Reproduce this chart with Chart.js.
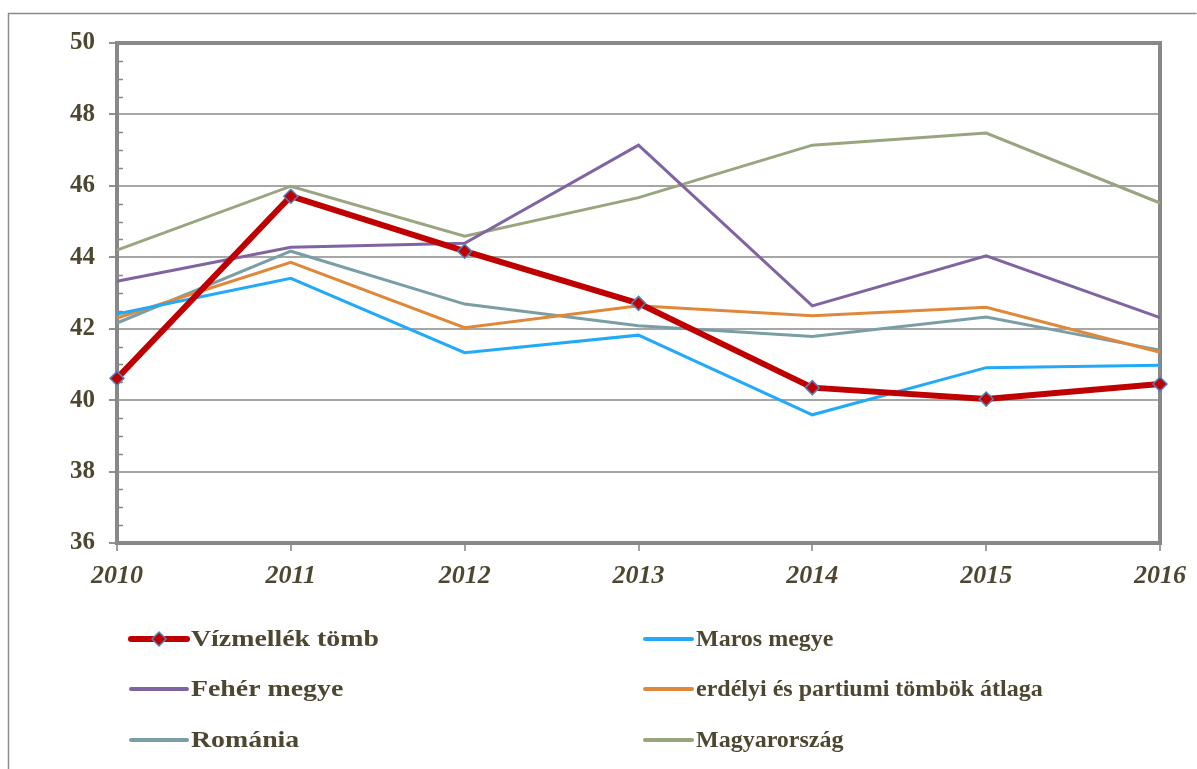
<!DOCTYPE html>
<html>
<head>
<meta charset="utf-8">
<script src="https://cdn.jsdelivr.net/npm/chart.js@4/dist/chart.umd.min.js"></script>
<style>
  html, body { margin: 0; padding: 0; background: #fff; }
  #wrap { width: 1197px; height: 769px; }
</style>
</head>
<body>
<div id="wrap"><canvas id="chart" width="1197" height="769"></canvas></div>
<script>
'use strict';

var years = ['2010', '2011', '2012', '2013', '2014', '2015', '2016'];

var vizmellek = [40.61, 45.71, 44.17, 42.71, 40.35, 40.03, 40.45];
var maros = [42.41, 43.41, 41.33, 41.82, 39.59, 40.91, 40.98];
var feher = [43.33, 44.28, 44.39, 47.14, 42.64, 44.04, 42.31];
var erdelyi = [42.30, 43.86, 42.03, 42.64, 42.36, 42.60, 41.34];
var romania = [42.16, 44.17, 42.69, 42.08, 41.78, 42.33, 41.40];
var magyarorszag = [44.20, 45.99, 44.59, 45.67, 47.14, 47.48, 45.52];

var seriesNames = ['Vízmellék tömb', 'Maros megye', 'Fehér megye',
  'erdélyi és partiumi tömbök átlaga', 'Románia', 'Magyarország'];
var seriesData = [vizmellek, maros, feher, erdelyi, romania, magyarorszag];
var colors = ['#C00000', '#22AAF8', '#8064A2', '#E0883A', '#7A9EA6', '#98A57F'];

var yMin = 36;
var yMax = 50;
var yStep = 2;

var textColor = '#4D4731';
var fontFamily = '"Liberation Serif", "Times New Roman", serif';

var datasets = [];
for (var i = 0; i < seriesNames.length; i++) {
  var isMain = i === 0;
  datasets.push({
    label: seriesNames[i],
    data: seriesData[i],
    borderColor: colors[i],
    backgroundColor: colors[i],
    borderWidth: isMain ? 6 : 3,
    pointStyle: 'rectRot',
    pointRadius: isMain ? 7 : 0,
    pointHoverRadius: isMain ? 7 : 0,
    pointBackgroundColor: '#C00000',
    pointBorderColor: '#4F81BD',
    pointBorderWidth: 1.5,
    tension: 0,
    clip: false
  });
}

// outer frame, top/right plot border and minor ticks
var framePlugin = {
  id: 'frame',
  beforeDraw: function (chart) {
    var c = chart.ctx;
    c.save();
    c.fillStyle = '#fff';
    c.fillRect(0, 0, chart.width, chart.height);
    c.strokeStyle = '#8C8C8C';
    c.lineWidth = 1.5;
    c.beginPath();
    c.moveTo(8.5, chart.height + 5);
    c.lineTo(8.5, 13.5);
    c.lineTo(1196.5, 13.5);
    c.stroke();
    c.restore();
  },
  beforeDatasetsDraw: function (chart) {
    var c = chart.ctx;
    var a = chart.chartArea;
    var ys = chart.scales.y;
    c.save();
    c.strokeStyle = '#888888';
    c.lineWidth = 4;
    c.beginPath();
    c.moveTo(a.left - 2, a.top);
    c.lineTo(a.right, a.top);
    c.lineTo(a.right, a.bottom + 2);
    c.stroke();
    // minor ticks inside the left axis
    c.lineWidth = 1.5;
    c.beginPath();
    for (var v = yMin; v < yMax; v += 0.5) {
      if (v % yStep === 0) continue;
      var py = Math.round(ys.getPixelForValue(v)) + 0.5;
      c.moveTo(a.left, py);
      c.lineTo(a.left + 6, py);
    }
    c.stroke();
    c.restore();
  }
};

// two-column legend under the chart
var legendPlugin = {
  id: 'twoColLegend',
  afterDraw: function (chart) {
    var c = chart.ctx;
    var colX = [131, 645];
    var rowY = [639, 689, 740];
    c.save();
    c.font = 'bold 24px ' + fontFamily;
    c.textBaseline = 'middle';
    c.fillStyle = textColor;
    chart.data.datasets.forEach(function (ds, i) {
      var x = colX[i % 2];
      var y = rowY[Math.floor(i / 2)];
      var len = i % 2 === 0 ? 56 : 47;
      c.strokeStyle = ds.borderColor;
      c.lineWidth = i === 0 ? 6 : 4;
      c.lineCap = 'round';
      c.beginPath();
      c.moveTo(x, y);
      c.lineTo(x + len, y);
      c.stroke();
      if (ds.pointRadius > 0) {
        var cx = x + len / 2;
        var r = ds.pointRadius;
        c.beginPath();
        c.moveTo(cx, y - r);
        c.lineTo(cx + r, y);
        c.lineTo(cx, y + r);
        c.lineTo(cx - r, y);
        c.closePath();
        c.fillStyle = ds.pointBackgroundColor;
        c.fill();
        c.lineWidth = ds.pointBorderWidth;
        c.strokeStyle = ds.pointBorderColor;
        c.stroke();
        c.fillStyle = textColor;
      }
      // left column text is set a little wider in the original
      var sx = i % 2 === 0 ? 1.16 : 1;
      var tx = x + len + 4;
      c.save();
      c.translate(tx, y + 1);
      c.scale(sx, 1);
      c.fillText(ds.label, 0, 0);
      c.restore();
    });
    c.restore();
  }
};

var ctx = document.getElementById('chart').getContext('2d');

var chart = new Chart(ctx, {
  type: 'line',
  data: {
    labels: years,
    datasets: datasets
  },
  plugins: [framePlugin, legendPlugin],
  options: {
    responsive: false,
    animation: false,
    layout: {
      padding: { left: 0, right: 37, top: 43, bottom: 176 }
    },
    plugins: {
      legend: { display: false },
      tooltip: { enabled: false }
    },
    scales: {
      x: {
        offset: false,
        afterFit: function (scale) { scale.height = 50; },
        border: { display: true, color: '#888888', width: 4 },
        grid: {
          drawOnChartArea: false,
          drawTicks: true,
          tickLength: 8,
          tickColor: '#A0A0A0',
          lineWidth: 2
        },
        ticks: {
          color: textColor,
          padding: 10,
          maxRotation: 0,
          font: { family: fontFamily, size: 26, weight: 'bold', style: 'italic' }
        }
      },
      y: {
        min: yMin,
        max: yMax,
        afterFit: function (scale) { scale.width = 117; },
        border: { display: true, color: '#888888', width: 4 },
        grid: {
          color: '#A6A6A6',
          lineWidth: 2,
          drawTicks: true,
          tickLength: 8,
          tickColor: '#909090'
        },
        ticks: {
          stepSize: yStep,
          color: textColor,
          padding: 14,
          font: { family: fontFamily, size: 25, weight: 'bold' }
        }
      }
    }
  }
});
</script>
</body>
</html>
